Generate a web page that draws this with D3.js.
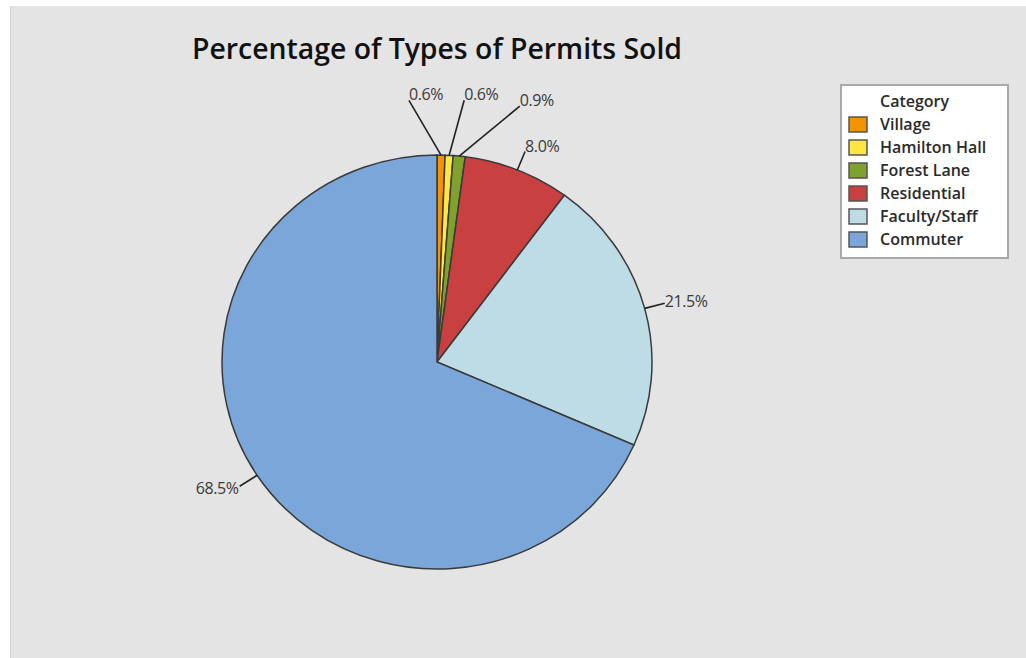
<!DOCTYPE html>
<html>
<head>
<meta charset="utf-8">
<script src="https://cdn.jsdelivr.net/npm/d3@7"></script>
<style>
  body { margin: 0; background: #fff; }
</style>
</head>
<body>
<div id="chart"></div>
<script>
// data
var categories = ["Village", "Hamilton Hall", "Forest Lane", "Residential", "Faculty/Staff", "Commuter"];
var percents = [0.6, 0.6, 0.9, 8.0, 21.5, 68.5];
var colors = ["#f59200", "#ffe640", "#7fa22e", "#c8403f", "#bedce6", "#7ba6d9"];

var width = 1026, height = 658;
var cx = 437, cy = 362, rx = 215, ry = 207;

var svg = d3.select("#chart").append("svg")
    .attr("width", width)
    .attr("height", height);

// gray panel
svg.append("rect")
    .attr("x", 10).attr("y", 6)
    .attr("width", width).attr("height", height)
    .attr("fill", "#e4e4e4");
svg.append("line")
    .attr("x1", 10.5).attr("x2", 10.5).attr("y1", 6).attr("y2", height)
    .attr("stroke", "#d2d2d2");

// title
svg.append("text")
    .attr("x", 192).attr("y", 59)
    .attr("textLength", 490).attr("lengthAdjust", "spacingAndGlyphs")
    .style("font-family", "'Open Sans', sans-serif")
    .style("font-size", "28px")
    .style("font-weight", 600)
    .attr("fill", "#111")
    .text("Percentage of Types of Permits Sold");

var data = categories.map(function(c, i) { return { name: c, value: percents[i], color: colors[i] }; });

var pie = d3.pie().sort(null).value(function(d) { return d.value; });
var arcs = pie(data);

var arc = d3.arc().innerRadius(0).outerRadius(ry);

// pie is a little wider than tall in the picture
var g = svg.append("g")
    .attr("transform", "translate(" + cx + "," + cy + ") scale(" + (rx / ry) + ",1)");

g.selectAll("path")
    .data(arcs)
  .enter().append("path")
    .attr("d", arc)
    .attr("fill", function(d) { return d.data.color; })
    .attr("stroke", "#3a3a3a")
    .attr("stroke-width", 1.5)
    .attr("vector-effect", "non-scaling-stroke");

// label angles: big slices point out from the middle, the small ones are fanned out
var small = arcs.filter(function(d) { return d.data.value < 5; });
var smallMean = d3.mean(small, function(d) { return (d.startAngle + d.endAngle) / 2; });
var fan = 11.6 * Math.PI / 180;

function pointAt(a, r) {
  return [cx + r * (rx / ry) * Math.sin(a), cy - r * Math.cos(a)];
}

arcs.forEach(function(d) {
  var mid = (d.startAngle + d.endAngle) / 2;
  var start = pointAt(mid, ry);
  var end, la;
  var k = small.indexOf(d);
  if (k >= 0) {
    la = smallMean + 0.04 + (k - (small.length - 1) / 2) * fan;
    end = pointAt(la, 263);
    if (k === small.length - 1) end = pointAt(la, 268);
  } else {
    la = mid;
    end = pointAt(mid, ry + 20);
  }
  svg.append("line")
      .attr("x1", start[0]).attr("y1", start[1])
      .attr("x2", end[0]).attr("y2", end[1])
      .attr("stroke", "#222")
      .attr("stroke-width", 1.6);
  var left = mid > Math.PI;
  svg.append("text")
      .attr("x", end[0] + (left ? -1 : 0))
      .attr("y", end[1] + 5 - 5 * Math.cos(la))
      .attr("text-anchor", left ? "end" : "start")
      .style("font-family", "'Open Sans', sans-serif")
      .style("font-size", "16px")
      .style("letter-spacing", "-0.4px")
      .attr("fill", "#3a3a3a")
      .text(d3.format(".1f")(d.data.value) + "%");
});

// legend
var legend = svg.append("g").attr("transform", "translate(841,85)");
legend.append("rect")
    .attr("width", 167).attr("height", 173)
    .attr("fill", "#fff")
    .attr("stroke", "#a8a8a8")
    .attr("stroke-width", 2);
legend.append("text")
    .attr("x", 39).attr("y", 22)
    .style("font-family", "'Open Sans', sans-serif")
    .style("font-size", "16px")
    .style("font-weight", 600)
    .attr("fill", "#2a2a2a")
    .text("Category");

var rowY = d3.scaleBand().domain(categories).range([28, 166]);

var item = legend.selectAll(".item")
    .data(data)
  .enter().append("g")
    .attr("transform", function(d) { return "translate(0," + rowY(d.name) + ")"; });
item.append("rect")
    .attr("x", 8).attr("y", 4)
    .attr("width", 18).attr("height", 15)
    .attr("fill", function(d) { return d.color; })
    .attr("stroke", "#555")
    .attr("stroke-width", 1.5);
item.append("text")
    .attr("x", 39).attr("y", 17)
    .style("font-family", "'Open Sans', sans-serif")
    .style("font-size", "16px")
    .style("font-weight", 600)
    .attr("fill", "#2a2a2a")
    .text(function(d) { return d.name; });
</script>
</body>
</html>
